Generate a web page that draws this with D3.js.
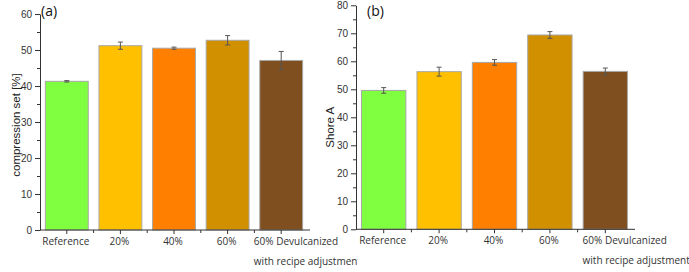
<!DOCTYPE html>
<html>
<head>
<meta charset="utf-8">
<script src="https://cdn.jsdelivr.net/npm/d3@7"></script>
<style>
  body { margin: 0; background: #fff; }
  svg { display: block; }
</style>
</head>
<body>
<div id="chart"></div>
<script>
// categories and values
const categories = ["Reference", "20%", "40%", "60%", "60% Devulcanized|with recipe adjustment"];
const barColors = ["#80ff40", "#ffc000", "#ff8000", "#d19000", "#7f4f1f"];

const compressionSet = [41.3, 51.2, 50.5, 52.7, 47.1];
const compressionErr = [0.2, 1.0, 0.3, 1.3, 2.5];
const compressionTicks = [0, 10, 20, 30, 40, 50, 60];

const shoreA = [49.6, 56.3, 59.6, 69.4, 56.4];
const shoreErr = [1.0, 1.6, 1.0, 1.2, 1.2];
const shoreTicks = [0, 10, 20, 30, 40, 50, 60, 70, 80];

const W = 689, H = 272;
const svg = d3.select("#chart").append("svg")
    .attr("width", W)
    .attr("height", H);

function drawPanel(p) {
    const g = svg.append("g");

    if (p.bg) {
        g.append("rect")
            .attr("x", p.bg).attr("y", 0)
            .attr("width", W - p.bg).attr("height", H)
            .attr("fill", "#fff");
    }

    const x = d3.scaleBand()
        .domain(categories)
        .range([p.left, p.right])
        .paddingInner(0.2)
        .paddingOuter(0.1);
    const step = x.step();

    const y = d3.scaleLinear()
        .domain([0, p.max])
        .range([p.bottom, p.top]);

    // bars
    g.selectAll(".bar")
        .data(p.values)
        .join("rect")
        .attr("x", (d, i) => x(categories[i]))
        .attr("y", d => y(d))
        .attr("width", x.bandwidth())
        .attr("height", d => y(0) - y(d))
        .attr("fill", (d, i) => barColors[i])
        .attr("stroke", "#a8a8a8")
        .attr("stroke-width", 1);

    // error bars
    const eb = g.selectAll(".err")
        .data(p.values)
        .join("g")
        .attr("stroke", "#555")
        .attr("stroke-width", 1);
    const cx = (i) => x(categories[i]) + x.bandwidth() / 2;
    eb.append("line")
        .attr("x1", (d, i) => cx(i)).attr("x2", (d, i) => cx(i))
        .attr("y1", (d, i) => y(d + p.err[i])).attr("y2", (d, i) => y(d - p.err[i]));
    eb.append("line")
        .attr("x1", (d, i) => cx(i) - 2.5).attr("x2", (d, i) => cx(i) + 2.5)
        .attr("y1", (d, i) => y(d + p.err[i])).attr("y2", (d, i) => y(d + p.err[i]));
    eb.append("line")
        .attr("x1", (d, i) => cx(i) - 2.5).attr("x2", (d, i) => cx(i) + 2.5)
        .attr("y1", (d, i) => y(d - p.err[i])).attr("y2", (d, i) => y(d - p.err[i]));

    // y axis: minor ticks then major
    const minor = d3.range(5, p.max, 10);
    g.append("g")
        .attr("transform", `translate(${p.left},0)`)
        .call(d3.axisLeft(y).tickValues(minor).tickSize(3).tickFormat(""))
        .call(a => a.select(".domain").remove())
        .selectAll("line").attr("stroke", "#333");
    const ya = g.append("g")
        .attr("transform", `translate(${p.left},0)`)
        .call(d3.axisLeft(y).tickValues(p.ticks).tickSize(5).tickSizeOuter(0).tickPadding(3));
    ya.select(".domain").attr("stroke", "#333");
    ya.selectAll(".tick line").attr("stroke", "#333");
    ya.selectAll("text")
        .attr("fill", "#333")
        .style("font-family", "'Liberation Sans', Arial, sans-serif")
        .style("font-size", "10px");

    // x axis: minor ticks at band edges, major at centres
    const edges = categories.map(c => x(c) - step * x.paddingInner() / 2).slice(1);
    const xa = g.append("g")
        .attr("transform", `translate(0,${p.bottom})`);
    xa.append("line")
        .attr("x1", p.left).attr("x2", p.right + 2)
        .attr("stroke", "#333");
    xa.selectAll(".minor")
        .data(edges)
        .join("line")
        .attr("x1", d => d).attr("x2", d => d)
        .attr("y1", 0).attr("y2", 3)
        .attr("stroke", "#333");
    xa.selectAll(".major")
        .data(categories)
        .join("line")
        .attr("x1", d => x(d) + x.bandwidth() / 2)
        .attr("x2", d => x(d) + x.bandwidth() / 2)
        .attr("y1", 0).attr("y2", 4)
        .attr("stroke", "#333");

    // category labels
    categories.forEach(c => {
        const lines = c.split("|");
        const mid = x(c) + x.bandwidth() / 2;
        const t = g.append("text")
            .attr("fill", "#333")
            .style("font-family", "'Open Sans', sans-serif")
            .style("font-size", "10px")
            .attr("y", p.bottom + 15);
        if (lines.length === 1) {
            t.attr("x", mid - 1).attr("text-anchor", "middle").text(c);
        } else {
            lines.forEach((l, k) => {
                t.append("tspan")
                    .attr("x", mid + p.multiShift * step)
                    .attr("dy", k === 0 ? 0 : 20)
                    .text(l);
            });
        }
    });

    // y title
    g.append("text")
        .attr("transform", `translate(${p.titleX},${(p.top + p.bottom) / 2 + p.titleDy}) rotate(-90)`)
        .attr("text-anchor", "middle")
        .attr("fill", "#222")
        .style("font-family", "'Liberation Sans', Arial, sans-serif")
        .style("font-size", "11.5px")
        .text(p.title);

    // panel letter
    g.append("text")
        .attr("x", p.letterX)
        .attr("y", 16)
        .attr("fill", "#111")
        .style("font-family", "'Open Sans', sans-serif")
        .style("font-size", "14px")
        .text(p.letter);
}

drawPanel({
    values: compressionSet, err: compressionErr, ticks: compressionTicks, max: 60,
    left: 40, right: 308, top: 14, bottom: 230,
    title: "compression set [%]", titleX: 20, titleDy: 3,
    letter: "(a)", letterX: 41, multiShift: -0.51
});

drawPanel({
    values: shoreA, err: shoreErr, ticks: shoreTicks, max: 80,
    left: 356, right: 633, top: 5.3, bottom: 229.3,
    title: "Shore A", titleX: 334, titleDy: 10,
    letter: "(b)", letterX: 367, multiShift: -0.41, bg: 357.5
});
</script>
</body>
</html>
